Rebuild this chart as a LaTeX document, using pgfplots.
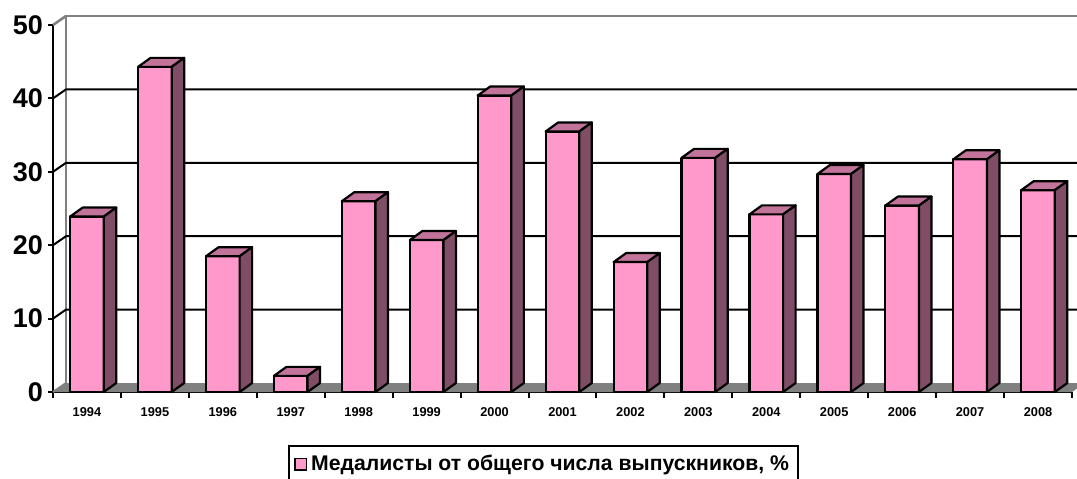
\documentclass[border=0pt]{standalone}
\usepackage{pgfplots}
\pgfplotsset{compat=1.18}
\usepackage{fontspec}
\setmainfont{Liberation Sans}
\definecolor{barfront}{RGB}{255,153,204}
\definecolor{bartop}{RGB}{194,115,153}
\definecolor{barside}{RGB}{128,77,102}
\definecolor{wallgray}{RGB}{128,128,128}
\pgfdeclareplotmark{nothing}{}
\begin{document}
\begin{tikzpicture}
\begin{axis}[
  at={(0,0)}, anchor=south west,
  scale only axis, width=509.5pt, height=183.5pt,
  xmin=-0.5, xmax=14.5, ymin=0, ymax=50,
  clip=false,
  axis x line*=bottom, axis y line*=left,
  axis line style={line width=1pt, -},
  ytick={0,10,...,50},
  xtick={0,...,14},
  xticklabels={1994,1995,1996,1997,1998,1999,2000,2001,2002,2003,2004,2005,2006,2007,2008},
  minor xtick={-0.5,0.5,...,14.5},
  major x tick style={draw=none},
  minor x tick style={line width=1pt, black},
  tick align=outside,
  minor tick length=3pt, major tick length=2.5pt,
  y tick style={line width=1pt,black},
  yticklabel style={font=\fontsize{13.5}{13.5}\selectfont\bfseries, xshift=1pt},
  xticklabel style={font=\fontsize{6.4}{6.4}\selectfont\bfseries, yshift=-1.5pt},
  /pgf/number format/assume math mode=true,
  legend style={at={(0.4815,-0.144)}, anchor=north, draw=black, line width=1pt,
    font=\fontsize{10.6}{12.5}\selectfont\bfseries, inner sep=2.5pt},
  legend cell align=left,
]
% floor
\fill[wallgray] (axis cs:-0.5,0) -- (axis cs:14.5,0) -- ([shift={(6.5pt,4.5pt)}]axis cs:14.5,0) -- ([shift={(6.5pt,4.5pt)}]axis cs:-0.5,0) -- cycle;
% back wall outline
\draw[wallgray, line width=1.3pt] ([shift={(6.5pt,4.5pt)}]axis cs:-0.5,0) -- ([shift={(6.5pt,4.5pt)}]axis cs:-0.5,50) -- ([shift={(6.5pt,4.5pt)}]axis cs:14.5,50);
\draw[wallgray, line width=1.3pt] (axis cs:-0.5,50) -- ([shift={(6.5pt,4.5pt)}]axis cs:-0.5,50);
\draw[wallgray, line width=1pt] (axis cs:-0.5,0) -- ([shift={(6.5pt,4.5pt)}]axis cs:-0.5,0);
\pgfplotsinvokeforeach{10,20,30,40}{
  \draw[black, line width=1pt] (axis cs:-0.5,#1) -- ([shift={(6.5pt,4.5pt)}]axis cs:-0.5,#1) -- ([shift={(6.5pt,4.5pt)}]axis cs:14.5,#1);
}
\addplot[scatter, only marks, mark=nothing, point meta=y,
  visualization depends on={rawy \as \val},
  scatter/@pre marker code/.code={
    \pgfmathsetmacro\h{\val*3.67}
    \filldraw[fill=barfront,draw=black,line width=1.1pt,line join=round] (-8.4pt,-\h pt) rectangle (8.4pt,0pt);
    \filldraw[fill=bartop,draw=black,line width=1.1pt,line join=round] (-8.4pt,0pt) -- (-2.15pt,4.5pt) -- (14.65pt,4.5pt) -- (8.4pt,0pt) -- cycle;
    \filldraw[fill=barside,draw=black,line width=1.1pt,line join=round] (8.4pt,0pt) -- (14.65pt,4.5pt) -- (14.65pt,-\h pt+4.5pt) -- (8.4pt,-\h pt) -- cycle;
  },
  scatter/@post marker code/.code={},
  legend image code/.code={\filldraw[fill=barfront,draw=black,line width=0.8pt] (0pt,-2.8pt) rectangle (5.6pt,2.8pt);},
] coordinates {
(0,23.9) (1,44.3) (2,18.5) (3,2.2) (4,26.0) (5,20.7) (6,40.4) (7,35.5)
(8,17.7) (9,31.9) (10,24.2) (11,29.7) (12,25.4) (13,31.7) (14,27.5)
};
\addlegendentry{Медалисты от общего числа выпускников, \%}
\end{axis}
\pgfresetboundingbox
\path (-26.5pt,-43pt) rectangle (512pt,196pt);
\end{tikzpicture}
\end{document}
